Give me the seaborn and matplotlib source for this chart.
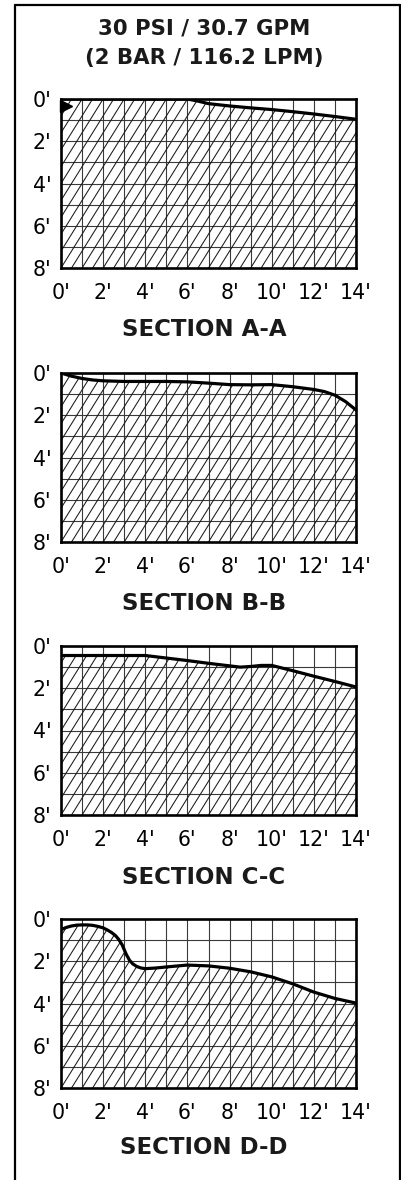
import numpy as np
import pandas as pd
import matplotlib
matplotlib.use("Agg")
import matplotlib.pyplot as plt
import seaborn as sns
from matplotlib.lines import Line2D

# ---- spray coverage profiles: depth of water surface below top (ft) vs distance (ft)
title_lines = ["30 PSI / 30.7 GPM", "(2 BAR / 116.2 LPM)"]
section_names = ["SECTION A-A", "SECTION B-B", "SECTION C-C", "SECTION D-D"]

dist_a = [0, 1, 2, 3, 4, 5, 6, 6.5, 7, 8, 9, 10, 11, 12, 13, 14]
depth_a = [0, 0, 0, 0, 0, 0, 0, 0.1, 0.22, 0.33, 0.42, 0.5, 0.6, 0.71, 0.83, 0.96]

dist_b = [0, 0.5, 1, 1.5, 2, 3, 4, 5, 6, 7, 8, 9, 10, 11, 12, 12.5, 13, 13.5, 14]
depth_b = [0, 0.15, 0.26, 0.33, 0.37, 0.4, 0.4, 0.4, 0.42, 0.48, 0.55, 0.56,
           0.55, 0.65, 0.78, 0.88, 1.05, 1.35, 1.75]

dist_c = [0, 1, 2, 3, 4, 5, 6, 7, 8, 8.5, 9, 9.5, 10, 11, 12, 13, 14]
depth_c = [0.45, 0.45, 0.45, 0.45, 0.45, 0.57, 0.69, 0.82, 0.94, 1.0, 0.97,
           0.92, 0.92, 1.17, 1.43, 1.68, 1.94]

dist_d = [0, 0.25, 0.5, 0.75, 1, 1.25, 1.5, 1.75, 2, 2.2, 2.4, 2.6, 2.75, 2.9,
          3.0, 3.1, 3.25, 3.4, 3.6, 3.8, 4.0, 4.5, 5, 6, 7, 8, 9, 10, 11, 12,
          13, 14]
depth_d = [0.5, 0.4, 0.33, 0.29, 0.28, 0.28, 0.3, 0.35, 0.42, 0.52, 0.64,
           0.8, 0.98, 1.22, 1.45, 1.68, 1.95, 2.12, 2.25, 2.32, 2.35, 2.32,
           2.27, 2.18, 2.22, 2.33, 2.5, 2.74, 3.07, 3.46, 3.76, 3.98]

# nozzle marker shown on the first section
nozzle_x = [0.22]
nozzle_depth = [0.33]

x_ticks = [0, 2, 4, 6, 8, 10, 12, 14]
y_ticks = [0, 2, 4, 6, 8]
x_tick_labels = [f"{v}'" for v in x_ticks]
y_tick_labels = [f"{v}'" for v in y_ticks]

frames = []
for name, xs, ds in zip(section_names,
                        [dist_a, dist_b, dist_c, dist_d],
                        [depth_a, depth_b, depth_c, depth_d]):
    frames.append(pd.DataFrame({"section": name, "distance": xs, "depth": ds}))
profiles = pd.concat(frames, ignore_index=True)

sns.set_theme(style="white")
plt.rcParams["font.family"] = ["DejaVu Sans"]

W, H = 402, 1180
fig = plt.figure(figsize=(W / 100, H / 100), dpi=100)

ax_left, ax_right = 61, 356
panel_tops = [99, 373, 646, 919]
panel_h = 169
label_offset = [62, 61, 62, 60]
center_x = 204 / W

hatch_dx = 0.5
hatch_slope = 1.6

for i, name in enumerate(section_names):
    top = panel_tops[i]
    ax = fig.add_axes([ax_left / W, 1 - (top + panel_h) / H,
                       (ax_right - ax_left) / W, panel_h / H])
    sub = profiles[profiles["section"] == name]

    # region under the water surface, hatched with thin diagonals
    fill = ax.fill_between(sub["distance"], sub["depth"], 8,
                           facecolor="none", edgecolor="none")
    clip = fill.get_paths()[0]
    for c in np.arange(-8 / hatch_slope, 14 + hatch_dx, hatch_dx):
        ln, = ax.plot([c, c + 8 / hatch_slope], [8, 0], color="#1a1a1a",
                      lw=0.75, zorder=2)
        ln.set_clip_path(clip, ax.transData)

    sns.lineplot(data=sub, x="distance", y="depth", ax=ax, color="black",
                 linewidth=2.3, estimator=None, sort=False, zorder=4)

    if i == 0:
        ax.plot(nozzle_x, nozzle_depth, marker=">", ms=8, color="black",
                linestyle="none", zorder=5, clip_on=False)

    ax.set_xlim(0, 14)
    ax.set_ylim(8, 0)
    ax.set_xticks(x_ticks)
    ax.set_xticks(np.arange(0, 15, 1), minor=True)
    ax.set_yticks(y_ticks)
    ax.set_yticks(np.arange(0, 9, 1), minor=True)
    ax.set_xticklabels(x_tick_labels)
    ax.set_yticklabels(y_tick_labels)
    ax.set_xlabel("")
    ax.set_ylabel("")
    ax.tick_params(which="both", length=0, labelsize=14.8, colors="black")
    ax.tick_params(axis="x", pad=11)
    ax.tick_params(axis="y", pad=7)
    ax.grid(which="both", color="#3a3a3a", lw=0.8)
    ax.set_axisbelow(True)
    for sp in ax.spines.values():
        sp.set_color("black")
        sp.set_linewidth(1.9)
        sp.set_zorder(6)

    fig.text(center_x, 1 - (top + panel_h + label_offset[i]) / H, name,
             ha="center", va="center", fontsize=16.5, fontweight="bold",
             color="#1a1a1a")

fig.text(center_x, 1 - 28 / H, title_lines[0], ha="center", va="center",
         fontsize=15.3, fontweight="bold", color="#1a1a1a")
fig.text(center_x, 1 - 58 / H, title_lines[1], ha="center", va="center",
         fontsize=15.3, fontweight="bold", color="#1a1a1a")

# frame around the card (open at the bottom)
bx0, bx1, by = 15 / W, 400 / W, 1 - 5 / H
for xs, ys in [([bx0, bx0], [0, by]), ([bx1, bx1], [0, by]), ([bx0, bx1], [by, by])]:
    fig.add_artist(Line2D(xs, ys, transform=fig.transFigure, color="black",
                          lw=1.6))

fig.savefig("out.png", dpi=100)
